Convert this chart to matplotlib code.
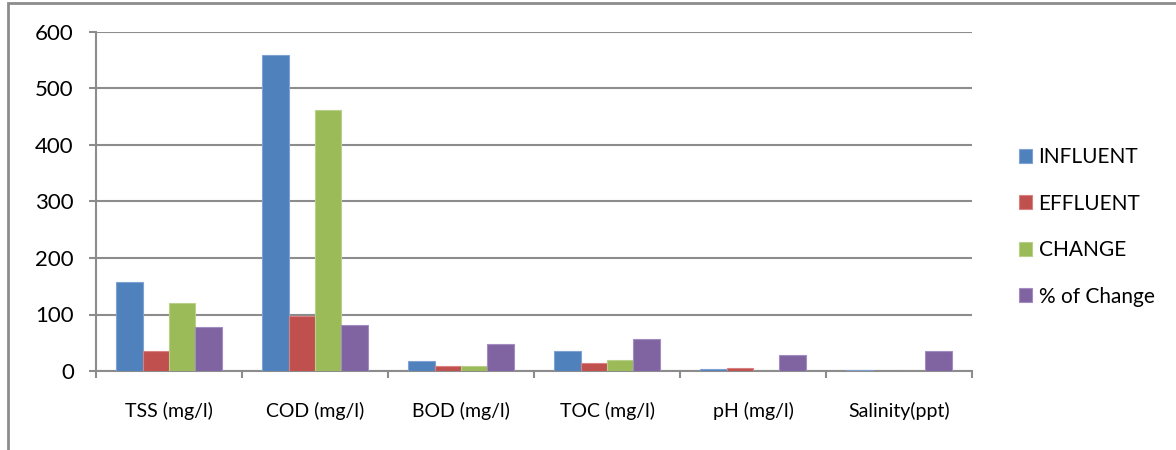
import matplotlib
matplotlib.use("Agg")
import matplotlib.pyplot as plt
import numpy as np
from matplotlib.patches import Rectangle

categories = ["TSS (mg/l)", "COD (mg/l)", "BOD (mg/l)", "TOC (mg/l)", "pH (mg/l)", "Salinity(ppt)"]
series_names = ["INFLUENT", "EFFLUENT", "CHANGE", "% of Change"]
influent = [157, 560, 17, 35, 4, 1]
effluent = [35, 97, 8, 14, 5, 0.3]
change = [121, 462, 8, 19, 0.5, 0.2]
pct_change = [77, 82, 48, 57, 29, 35]
yticks = [0, 100, 200, 300, 400, 500, 600]

colors = ["#4F81BD", "#C0504D", "#9BBB59", "#8064A2"]
edges = ["#7FA2D2", "#D98180", "#B8D08A", "#A18DC0"]

plt.rcParams['font.family'] = ['Lato', 'DejaVu Sans']

fig = plt.figure(figsize=(11.76, 4.5), dpi=100)
ax = fig.add_axes([96/1176, 1-371/450, (972-96)/1176, (371-32)/450])

# outer chart frame
fig.patches.append(Rectangle((8/1176, -0.1), 1.2, 1-3/450+0.1, transform=fig.transFigure,
                             fill=False, edgecolor="#8C8C8C", linewidth=2))

x = np.arange(len(categories))
data = [influent, effluent, change, pct_change]
bw = 0.725 / 4
for i, (vals, name) in enumerate(zip(data, series_names)):
    ax.bar(x + (i - 1.5) * bw, vals, width=bw, color=colors[i], edgecolor=edges[i],
           linewidth=0.8, label=name, zorder=3)

ax.set_xlim(-0.5, len(categories) - 0.5)
ax.set_ylim(0, 600)
ax.set_yticks(yticks)
ax.set_yticklabels([str(v) for v in yticks], fontsize=16)
ax.yaxis.grid(True, color="#8C8C8C", linewidth=1.5, zorder=0)
ax.set_axisbelow(True)

ax.set_xticks(x)
ax.set_xticklabels(categories, fontsize=14)
ax.tick_params(axis='x', which='major', length=0, pad=22)
ax.set_xticks(np.arange(-0.5, len(categories)), minor=True)
ax.tick_params(axis='x', which='minor', length=5, width=1.5, color="#8C8C8C")
ax.tick_params(axis='y', length=5, width=1.5, color="#8C8C8C", pad=11)

for s in ["top", "right"]:
    ax.spines[s].set_visible(False)
for s in ["left", "bottom"]:
    ax.spines[s].set_color("#8C8C8C")
    ax.spines[s].set_linewidth(1.5)

leg = fig.legend(loc="center left", bbox_to_anchor=(1000/1176, 1-227/450), frameon=False,
                 fontsize=15, handlelength=0.65, handleheight=0.65, labelspacing=1.27,
                 handletextpad=0.3)

fig.savefig("out.png", dpi=100)
